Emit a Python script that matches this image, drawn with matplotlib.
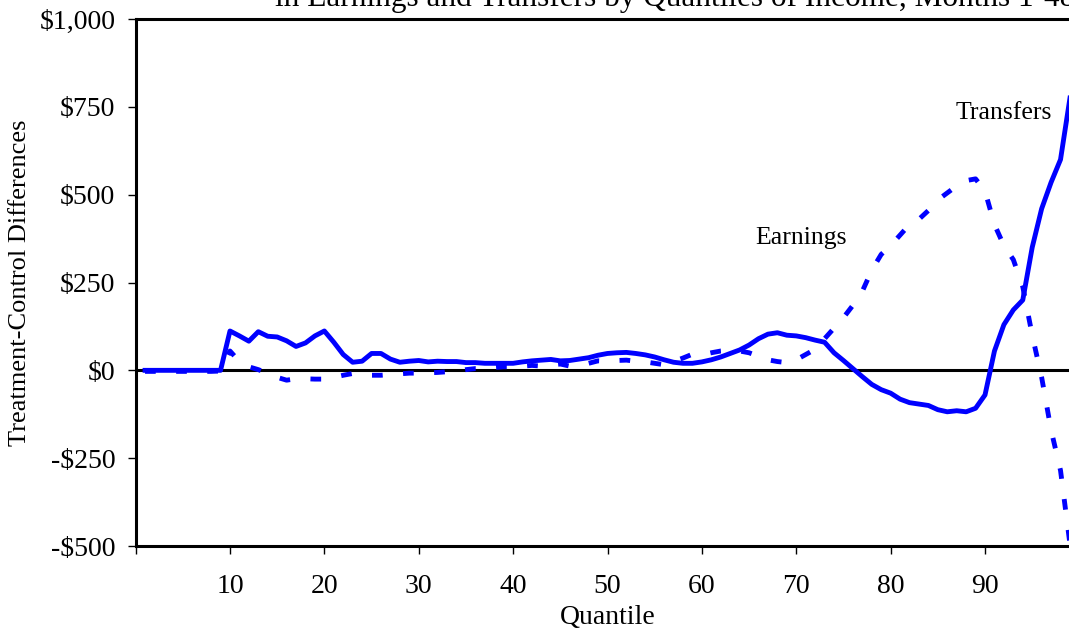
import numpy as np
import matplotlib
matplotlib.use('Agg')
import matplotlib.pyplot as plt

plt.rcParams['font.family'] = ['Liberation Serif', 'DejaVu Serif']

# quantiles 1..99
quantiles = list(range(1, 100))

# treatment-control difference in transfers (solid line)
transfers = [
    0, 0, 0, 0, 0, 0, 0, 0, 0, 112,          # 1-10
    98, 83, 110, 97, 95, 84, 68, 78, 98, 112,  # 11-20
    80, 45, 23, 26, 48, 48, 32, 23, 26, 28,    # 21-30
    24, 26, 25, 25, 22, 22, 20, 20, 20, 20,    # 31-40
    24, 27, 29, 31, 27, 28, 32, 36, 43, 48,    # 41-50
    50, 51, 48, 44, 38, 30, 23, 20, 20, 24,    # 51-60
    30, 38, 48, 58, 72, 90, 103, 107, 100, 98, # 61-70
    93, 86, 80, 50, 28, 5, -18, -40, -55, -65, # 71-80
    -82, -92, -96, -100, -112, -118, -115, -118, -108, -70,  # 81-90
    55, 130, 172, 200, 350, 460, 535, 600, 775,              # 91-99
]

# treatment-control difference in earnings (dashed line)
earnings = [
    -3, -3, -3, -3, -3, -3, -3, -3, -2, 55,     # 1-10
    25, 10, 2, -8, -20, -28, -24, -24, -25, -25,  # 11-20
    -20, -14, -9, -10, -14, -14, -12, -10, -8, -8,  # 21-30
    -7, -6, -4, -2, 2, 5, 5, 8, 10, 10,          # 31-40
    12, 14, 12, 15, 18, 12, 15, 20, 27, 26,      # 41-50
    28, 29, 26, 24, 20, 16, 25, 35, 46, 44,      # 51-60
    50, 55, 57, 55, 50, 40, 30, 25, 22, 30,      # 61-70
    45, 60, 90, 120, 150, 185, 225, 285, 330, 355,  # 71-80
    385, 415, 430, 455, 485, 505, 525, 540, 545, 510,  # 81-90
    415, 355, 315, 238, 100, -20, -170, -285, -495,   # 91-99
]

x_ticks = list(range(0, 100, 10))
x_tick_labels = [''] + [str(t) for t in x_ticks[1:]]
y_ticks = [-500, -250, 0, 250, 500, 750, 1000]
y_tick_labels = ['-$500', '-$250', '$0', '$250', '$500', '$750', '$1,000']

W, H = 1069, 634
fig = plt.figure(figsize=(W / 100, H / 100), dpi=100)
left_px, right_px, top_px, bottom_px = 135.6, 1079.4, 19, 546
ax = fig.add_axes([left_px / W, (H - bottom_px) / H,
                   (right_px - left_px) / W, (bottom_px - top_px) / H])

blue = '#0000FF'
ax.axhline(0, color='black', linewidth=2.2, zorder=2)
ax.plot(quantiles, transfers, color=blue, linewidth=3.5, solid_joinstyle='round', zorder=3)
ax.plot(quantiles, earnings, color=blue, linewidth=3.5, linestyle=(0, (2.2, 4.2)),
        dash_capstyle='butt', zorder=3)

ax.set_xlim(0, 100)
ax.set_ylim(-500, 1000)
ax.set_xticks(x_ticks)
ax.set_xticklabels(x_tick_labels)
ax.set_yticks(y_ticks)
ax.set_yticklabels(y_tick_labels)

for side in ['left', 'bottom', 'top', 'right']:
    ax.spines[side].set_linewidth(2.2)
ax.tick_params(axis='both', direction='out', length=5.5, width=1.0, labelsize=20)
ax.tick_params(axis='x', pad=15)
ax.tick_params(axis='y', pad=9)

ax.set_xlabel('Quantile', fontsize=20, labelpad=4)
ax.set_ylabel('Treatment-Control Differences', fontsize=19, labelpad=6)

ax.text(92.0, 732, 'Transfers', fontsize=18.5, ha='center', va='center')
ax.text(70.5, 377, 'Earnings', fontsize=18.5, ha='center', va='center')

fig.text(275 / W, 1 - 6 / H, 'in Earnings and Transfers by Quantiles of Income, Months 1-48',
         fontsize=22.5, ha='left', va='baseline')

fig.savefig('out.png', dpi=100, facecolor='white')
